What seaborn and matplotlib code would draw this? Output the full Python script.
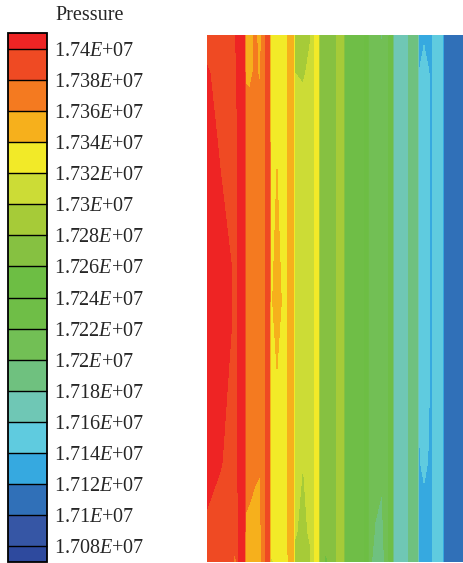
import numpy as np
import matplotlib
matplotlib.use("Agg")
import matplotlib.pyplot as plt
import seaborn as sns

# ---------------- data ----------------
levels = [1.708, 1.710, 1.712, 1.714, 1.716, 1.718, 1.720, 1.722, 1.724,
          1.726, 1.728, 1.730, 1.732, 1.734, 1.736, 1.738, 1.740]
tick_labels = ["1.708E+07", "1.71E+07", "1.712E+07", "1.714E+07", "1.716E+07",
               "1.718E+07", "1.72E+07", "1.722E+07", "1.724E+07", "1.726E+07",
               "1.728E+07", "1.73E+07", "1.732E+07", "1.734E+07", "1.736E+07",
               "1.738E+07", "1.74E+07"]
# colours from below 1.708 up to above 1.740
band_colors = ["#2E4A9E", "#3656A5", "#3070B8", "#36A9E0", "#5FCBDF", "#6FC7B5",
               "#6FC17F", "#72BF55", "#6FBE47", "#6DBE44", "#86C141", "#A6CB38",
               "#CCDC36", "#F2EA28", "#F6B01C", "#F47A20", "#EF4A23", "#EE2424"]

# sample rows (height from bottom of domain) and sample columns (x across domain)
row_y = [0, 30, 100, 260, 420, 490, 527]
col_x = [0, 13, 24, 28.5, 32, 37.95,
         38.05, 43, 48, 53, 57, 59, 62.95,
         63.05, 70, 76, 80, 81.5, 86.95,
         87.05, 96, 103, 106, 108.5, 111.95,
         112.05, 119, 129, 131, 136.95,
         137.05, 157, 159, 160.95,
         161.05, 168, 175, 181, 183, 185.95,
         186.05, 201, 203.5, 210.95,
         211.05, 217, 222, 224.5, 226.5, 235.95,
         236.05, 256]
# pressure (x1e7 Pa) at each column, rows bottom -> top
col_p = [
    [1.7388, 1.7398, 1.7404, 1.7408, 1.7404, 1.7402, 1.7390],
    [1.7388, 1.7394, 1.7401, 1.7405, 1.7399, 1.7393, 1.7390],
    [1.7386, 1.7390, 1.7396, 1.7401, 1.7397, 1.7393, 1.7392],
    [1.7376, 1.7379, 1.7392, 1.7395, 1.7395, 1.7396, 1.7401],
    [1.7402, 1.7404, 1.7405, 1.7406, 1.7406, 1.7406, 1.7405],
    [1.7405, 1.7405, 1.7405, 1.7405, 1.7405, 1.7405, 1.7405],
    [1.7355, 1.7358, 1.7366, 1.7372, 1.7370, 1.7358, 1.7355],
    [1.7354, 1.7357, 1.7364, 1.7372, 1.7370, 1.7357, 1.7354],
    [1.7353, 1.7356, 1.7362, 1.7372, 1.7370, 1.7362, 1.7363],
    [1.7352, 1.7356, 1.7361, 1.7372, 1.7370, 1.7358, 1.7355],
    [1.7368, 1.7370, 1.7373, 1.7375, 1.7375, 1.7372, 1.7370],
    [1.7384, 1.7384, 1.7384, 1.7384, 1.7384, 1.7384, 1.7384],
    [1.7386, 1.7386, 1.7386, 1.7386, 1.7386, 1.7386, 1.7386],
    [1.7318, 1.7325, 1.7332, 1.7337, 1.7337, 1.7333, 1.7330],
    [1.7322, 1.7328, 1.7333, 1.7345, 1.7339, 1.7334, 1.7330],
    [1.7328, 1.7332, 1.7335, 1.7338, 1.7336, 1.7334, 1.7332],
    [1.7333, 1.7335, 1.7337, 1.7338, 1.7337, 1.7336, 1.7334],
    [1.7343, 1.7344, 1.7346, 1.7347, 1.7346, 1.7344, 1.7343],
    [1.7348, 1.7348, 1.7348, 1.7348, 1.7348, 1.7348, 1.7348],
    [1.7296, 1.7302, 1.7308, 1.7310, 1.7308, 1.7300, 1.7296],
    [1.7292, 1.7296, 1.7300, 1.7312, 1.7310, 1.7298, 1.7295],
    [1.7297, 1.7302, 1.7308, 1.7314, 1.7312, 1.7303, 1.7299],
    [1.7312, 1.7314, 1.7316, 1.7317, 1.7316, 1.7315, 1.7314],
    [1.7324, 1.7324, 1.7324, 1.7324, 1.7324, 1.7324, 1.7324],
    [1.7325, 1.7325, 1.7325, 1.7325, 1.7325, 1.7325, 1.7325],
    [1.7268, 1.7270, 1.7272, 1.7273, 1.7272, 1.7271, 1.7270],
    [1.7257, 1.7264, 1.7270, 1.7272, 1.7272, 1.7271, 1.7270],
    [1.7276, 1.7276, 1.7277, 1.7277, 1.7277, 1.7277, 1.7276],
    [1.7286, 1.7286, 1.7286, 1.7286, 1.7286, 1.7286, 1.7286],
    [1.7288, 1.7288, 1.7288, 1.7288, 1.7288, 1.7288, 1.7288],
    [1.7236, 1.7236, 1.7236, 1.7236, 1.7236, 1.7236, 1.7236],
    [1.7238, 1.7238, 1.7238, 1.7238, 1.7238, 1.7238, 1.7238],
    [1.7246, 1.7246, 1.7246, 1.7246, 1.7246, 1.7246, 1.7246],
    [1.7247, 1.7247, 1.7247, 1.7247, 1.7247, 1.7247, 1.7247],
    [1.7205, 1.7208, 1.7210, 1.7212, 1.7212, 1.7210, 1.7208],
    [1.7195, 1.7199, 1.7206, 1.7210, 1.7210, 1.7208, 1.7206],
    [1.7192, 1.7196, 1.7203, 1.7210, 1.7210, 1.7206, 1.7198],
    [1.7212, 1.7213, 1.7214, 1.7215, 1.7215, 1.7214, 1.7212],
    [1.7228, 1.7228, 1.7228, 1.7228, 1.7228, 1.7228, 1.7228],
    [1.7230, 1.7230, 1.7230, 1.7230, 1.7230, 1.7230, 1.7230],
    [1.7172, 1.7172, 1.7172, 1.7172, 1.7172, 1.7172, 1.7172],
    [1.7176, 1.7176, 1.7176, 1.7176, 1.7176, 1.7176, 1.7176],
    [1.7188, 1.7188, 1.7188, 1.7188, 1.7188, 1.7188, 1.7188],
    [1.7190, 1.7190, 1.7190, 1.7190, 1.7190, 1.7190, 1.7190],
    [1.7133, 1.7135, 1.7138, 1.7142, 1.7142, 1.7139, 1.7134],
    [1.7128, 1.7133, 1.7143, 1.7148, 1.7147, 1.7145, 1.7138],
    [1.7134, 1.7136, 1.7139, 1.7142, 1.7142, 1.7140, 1.7136],
    [1.7132, 1.7132, 1.7132, 1.7132, 1.7132, 1.7132, 1.7132],
    [1.7148, 1.7148, 1.7148, 1.7148, 1.7148, 1.7148, 1.7148],
    [1.7152, 1.7152, 1.7152, 1.7152, 1.7152, 1.7152, 1.7152],
    [1.7108, 1.7108, 1.7108, 1.7108, 1.7108, 1.7108, 1.7108],
    [1.7110, 1.7110, 1.7110, 1.7110, 1.7110, 1.7110, 1.7110],
]

# ---------------- style ----------------
sns.set_theme(style="white")
plt.rcParams["font.family"] = ["Liberation Serif", "DejaVu Serif"]
plt.rcParams["mathtext.fontset"] = "custom"
plt.rcParams["mathtext.rm"] = "Liberation Serif"
plt.rcParams["mathtext.it"] = "Liberation Serif:italic"

palette = sns.color_palette(band_colors)

W, H = 464, 563
fig = plt.figure(figsize=(W / 100, H / 100), dpi=100)
fig.patch.set_facecolor("white")

ax = fig.add_axes([207 / W, 1 / H, 256 / W, 527 / H])
X, Y = np.meshgrid(np.array(col_x), np.array(row_y))
Z = np.array(col_p).T
cf = ax.contourf(X, Y, Z, levels=levels, colors=palette, extend="both")
ax.set_xlim(0, 256)
ax.set_ylim(0, 527)
ax.axis("off")

cax = fig.add_axes([8.5 / W, 1 / H, 38.5 / W, 529 / H])
cbar = fig.colorbar(cf, cax=cax, drawedges=True, extendrect=True,
                    extendfrac=0.032)
cbar.set_ticks(levels)
cbar.set_ticklabels([s.replace("E", "$E$") for s in tick_labels])
cbar.ax.tick_params(length=0, pad=5, labelsize=14.5)
for t in cbar.ax.get_yticklabels():
    t.set_fontfamily(["Liberation Serif", "DejaVu Serif"])
cbar.outline.set_edgecolor("black")
cbar.outline.set_linewidth(1.3)
cbar.dividers.set_color("black")
cbar.dividers.set_linewidth(1.0)

fig.text(55 / W, 1 - 15 / H, "Pressure", ha="left", va="center",
         fontsize=14.5, family=["Liberation Serif", "DejaVu Serif"])

fig.savefig("out.png", dpi=100, facecolor="white")
